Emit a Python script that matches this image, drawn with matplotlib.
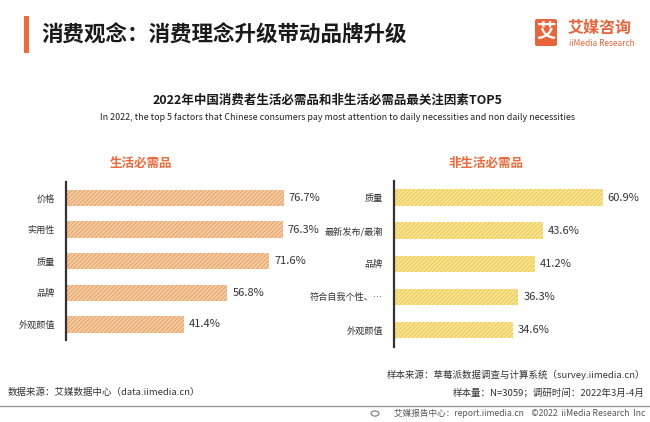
import matplotlib
matplotlib.use('Agg')
import matplotlib.pyplot as plt
from matplotlib.patches import Rectangle, FancyBboxPatch, Circle
from matplotlib.lines import Line2D

plt.rcParams['font.family'] = ['Noto Sans CJK SC', 'DejaVu Sans']
plt.rcParams['hatch.linewidth'] = 0.7

# ---------------- data ----------------
nec_labels = ['价格', '实用性', '质量', '品牌', '外观颜值']
nec_values = [76.7, 76.3, 71.6, 56.8, 41.4]
non_labels = ['质量', '最新发布/最潮', '品牌', '符合自我个性、…', '外观颜值']
non_values = [60.9, 43.6, 41.2, 36.3, 34.6]

main_title = '消费观念：消费理念升级带动品牌升级'
chart_title = '2022年中国消费者生活必需品和非生活必需品最关注因素TOP5'
chart_subtitle = ('In 2022, the top 5 factors that Chinese consumers pay most attention '
                  'to daily necessities and non daily necessities')
panel_titles = ['生活必需品', '非生活必需品']

W, H = 650, 422
fig = plt.figure(figsize=(6.5, 4.22), dpi=100)


def fx(x):
    return x / W


def fy(y):
    return 1 - y / H


def add_ax(left, top, right, bottom):
    return fig.add_axes([fx(left), fy(bottom), (right - left) / W, (bottom - top) / H])


ORANGE = '#EC6A3C'

# ---------------- header ----------------
fig.patches.append(Rectangle((fx(24), fy(53)), 5 / W, 37 / H, transform=fig.transFigure,
                             facecolor='#F26B38', edgecolor='none'))
fig.text(fx(41), fy(35), main_title, ha='left', va='center', fontsize=15.5,
         color='#1a1a1a', weight='semibold')

# logo
fig.patches.append(FancyBboxPatch((fx(535), fy(46)), 22 / W, 27 / H,
                                  boxstyle='round,pad=0,rounding_size=0.004',
                                  transform=fig.transFigure, facecolor='#E8643A',
                                  edgecolor='none'))
fig.text(fx(546), fy(32.5), '艾', ha='center', va='center', fontsize=14,
         weight='bold', color='white')
fig.text(fx(568), fy(28), '艾媒咨询', ha='left', va='center', fontsize=11.5,
         weight='bold', color='#E8643A')
fig.text(fx(569), fy(43), 'iiMedia Research', ha='left', va='center', fontsize=6,
         color='#E8643A')

# chart titles
fig.text(fx(328), fy(100), chart_title, ha='center', va='center', fontsize=9,
         weight='bold', color='#1a1a1a')
fig.text(fx(338), fy(118), chart_subtitle, ha='center', va='center', fontsize=6.4,
         color='#222222')

# ---------------- panels ----------------
panels = [
    dict(labels=nec_labels, values=nec_values, box=(66, 182.2, 310.4, 340.3), xmax=86,
         face='#F4CBA3', hatch='#E6A166', height=0.52, title_x=141),
    dict(labels=non_labels, values=non_values, box=(394, 181, 633.9, 346.6), xmax=70,
         face='#F8E396', hatch='#EDCB4C', height=0.5, title_x=486),
]

for p, ttl in zip(panels, panel_titles):
    ax = add_ax(*p['box'])
    ypos = list(range(len(p['values'])))
    ax.barh(ypos, p['values'], height=p['height'], color=p['face'],
            edgecolor=p['hatch'], linewidth=0, hatch='////////')
    ax.set_xlim(0, p['xmax'])
    ax.set_ylim(len(ypos) - 0.5, -0.5)
    ax.set_yticks(ypos, p['labels'])
    ax.set_xticks([])
    ax.tick_params(axis='y', length=0, pad=8, labelsize=6.6, labelcolor='#333333')
    for s in ['top', 'right', 'bottom']:
        ax.spines[s].set_visible(False)
    ax.spines['left'].set_color('#333333')
    ax.spines['left'].set_linewidth(1.6)
    ax.patch.set_alpha(0)
    for y, v in zip(ypos, p['values']):
        ax.annotate(f'{v}%', xy=(v, y), xytext=(3.5, 0), textcoords='offset points',
                    ha='left', va='center', fontsize=8, color='#333333')
    fig.text(fx(p['title_x']), fy(163), ttl, ha='center', va='center', fontsize=9,
             weight='bold', color=ORANGE)

# ---------------- footer ----------------
fig.text(fx(645), fy(375), '样本来源：草莓派数据调查与计算系统（survey.iimedia.cn）',
         ha='right', va='center', fontsize=6.8, color='#333333')
fig.text(fx(645), fy(392.5), '样本量：N=3059；调研时间：2022年3月-4月',
         ha='right', va='center', fontsize=6.8, color='#333333')
fig.text(fx(8), fy(392.5), '数据来源：艾媒数据中心（data.iimedia.cn）',
         ha='left', va='center', fontsize=6.8, color='#333333')
fig.lines.append(Line2D([0, 1], [fy(406), fy(406)], transform=fig.transFigure,
                        color='#9a9a9a', linewidth=1))
fig.patches.append(Circle((fx(375), fy(413.5)), 4 / W, transform=fig.transFigure,
                          facecolor='none', edgecolor='#777777', linewidth=0.8))
fig.text(fx(645), fy(413.5), '艾媒报告中心：report.iimedia.cn    ©2022  iiMedia Research  Inc',
         ha='right', va='center', fontsize=6.2, color='#555555')

fig.savefig('out.png', dpi=100)
